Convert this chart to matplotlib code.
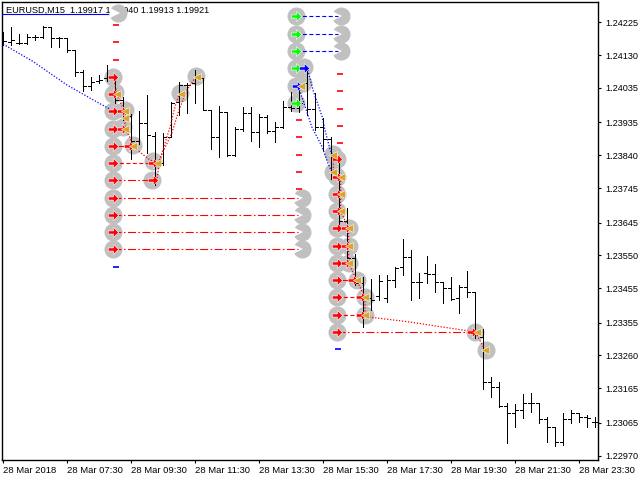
import matplotlib
matplotlib.use("Agg")
import matplotlib.pyplot as plt
from matplotlib.path import Path

# EURUSD M15 bars, 28 Mar 2018 from 05:30, one bar per index
bar_open = [1.24171, 1.24168, 1.24165, 1.24165, 1.24183, 1.24183, 1.24212, 1.24180, 1.24180, 1.24145,
            1.24081, 1.24041, 1.24055, 1.24064, 1.24067, 1.24000, 1.23954, 1.23881, 1.23934, 1.23896,
            1.23818, 1.23893, 1.23994, 1.24044, 1.24049, 1.24064, 1.23971, 1.23893, 1.23965, 1.23841,
            1.23916, 1.23962, 1.23907, 1.23951, 1.23910, 1.23922, 1.23980, 1.23977, 1.24049, 1.23974,
            1.23922, 1.23887, 1.23835, 1.23650, 1.23542, 1.23470, 1.23426, 1.23432, 1.23426, 1.23479,
            1.23516, 1.23545, 1.23473, 1.23499, 1.23496, 1.23473, 1.23455, 1.23426, 1.23458, 1.23444,
            1.23313, 1.23183, 1.23169, 1.23113, 1.23093, 1.23102, 1.23122, 1.23122, 1.23076, 1.23053,
            1.23009, 1.23076, 1.23093, 1.23082, 1.23067]
bar_high = [1.24197, 1.24212, 1.24191, 1.24191, 1.24189, 1.24215, 1.24212, 1.24183, 1.24180, 1.24145,
            1.24087, 1.24067, 1.24073, 1.24102, 1.24064, 1.24009, 1.23960, 1.23968, 1.24015, 1.23907,
            1.23905, 1.23994, 1.24052, 1.24049, 1.24087, 1.24064, 1.23971, 1.23983, 1.23965, 1.23922,
            1.23980, 1.23980, 1.23960, 1.23957, 1.23936, 1.23997, 1.24023, 1.24038, 1.24093, 1.24020,
            1.23948, 1.23893, 1.23838, 1.23687, 1.23554, 1.23487, 1.23481, 1.23493, 1.23493, 1.23516,
            1.23597, 1.23566, 1.23499, 1.23548, 1.23525, 1.23470, 1.23487, 1.23464, 1.23505, 1.23444,
            1.23337, 1.23197, 1.23183, 1.23122, 1.23119, 1.23148, 1.23151, 1.23122, 1.23082, 1.23053,
            1.23093, 1.23102, 1.23093, 1.23087, 1.23082]
bar_low = [1.24160, 1.24160, 1.24162, 1.24162, 1.24174, 1.24180, 1.24154, 1.24154, 1.24139, 1.24070,
           1.24026, 1.24029, 1.24049, 1.24055, 1.23991, 1.23942, 1.23829, 1.23873, 1.23847, 1.23754,
           1.23812, 1.23893, 1.23957, 1.23962, 1.23991, 1.23971, 1.23858, 1.23835, 1.23838, 1.23838,
           1.23910, 1.23881, 1.23864, 1.23905, 1.23878, 1.23919, 1.23968, 1.23965, 1.23957, 1.23913,
           1.23855, 1.23771, 1.23632, 1.23537, 1.23464, 1.23342, 1.23392, 1.23421, 1.23415, 1.23458,
           1.23493, 1.23421, 1.23426, 1.23470, 1.23444, 1.23412, 1.23421, 1.23383, 1.23429, 1.23311,
           1.23163, 1.23140, 1.23111, 1.23006, 1.23053, 1.23079, 1.23096, 1.23064, 1.23009, 1.22998,
           1.23000, 1.23064, 1.23067, 1.23053, 1.23053]
bar_close = [1.24171, 1.24174, 1.24165, 1.24183, 1.24183, 1.24212, 1.24180, 1.24180, 1.24145, 1.24081,
             1.24041, 1.24052, 1.24058, 1.24067, 1.24000, 1.23971, 1.23881, 1.23934, 1.23899, 1.23812,
             1.23893, 1.23991, 1.24044, 1.24044, 1.24067, 1.23971, 1.23893, 1.23965, 1.23841, 1.23916,
             1.23962, 1.23907, 1.23951, 1.23910, 1.23922, 1.23980, 1.23977, 1.23991, 1.23974, 1.23922,
             1.23887, 1.23835, 1.23650, 1.23542, 1.23470, 1.23426, 1.23421, 1.23476, 1.23479, 1.23513,
             1.23545, 1.23473, 1.23473, 1.23496, 1.23473, 1.23455, 1.23424, 1.23458, 1.23444, 1.23325,
             1.23183, 1.23169, 1.23113, 1.23093, 1.23102, 1.23122, 1.23122, 1.23076, 1.23053, 1.23009,
             1.23076, 1.23093, 1.23082, 1.23079, 1.23067]

date_labels = ["28 Mar 2018", "28 Mar 07:30", "28 Mar 09:30", "28 Mar 11:30", "28 Mar 13:30",
               "28 Mar 15:30", "28 Mar 17:30", "28 Mar 19:30", "28 Mar 21:30", "28 Mar 23:30"]
date_bars = [0, 8, 16, 24, 32, 40, 48, 56, 64, 72]
price_ticks = [1.24225, 1.24130, 1.24035, 1.23935, 1.23840, 1.23745, 1.23645,
               1.23550, 1.23455, 1.23355, 1.23260, 1.23165, 1.23065, 1.22970]
title_text = "EURUSD,M15  1.19917 1.19940 1.19913 1.19921"

# grid levels of the two order ladders
left_levels = [1.24067, 1.24017, 1.23967, 1.23917, 1.23867, 1.23817,
               1.23767, 1.23717, 1.23667, 1.23617, 1.23567]
right_levels = [1.23828, 1.23778, 1.23728, 1.23678, 1.23628, 1.23578,
                1.23528, 1.23478, 1.23428, 1.23378, 1.23328]
top_levels = [1.24242, 1.24192, 1.24142, 1.24092, 1.24042, 1.23992]
left_x, right_x, top_x = 13.75, 41.75, 36.65

# gray circles (bar index, price)
circle_x = ([left_x] * 11 + [14.0, 15.2, 15.0, 16.25, 18.75, 18.6, 22.1, 24.1, 14.4]
            + [right_x] * 11 + [41.3, 41.3, 43.2, 43.2, 43.2, 44.3, 45.2, 45.2, 59.0, 60.4]
            + [top_x] * 6 + [37.6, 37.5]
            + [37.4] * 4 + [42.3] * 3)
circle_y = (left_levels + [1.24022, 1.23971, 1.23922, 1.23870, 1.23822, 1.23768, 1.24020, 1.24070, 1.24252]
            + right_levels + [1.23844, 1.23792, 1.23628, 1.23578, 1.23528, 1.23478, 1.23428, 1.23378,
                              1.23328, 1.23276]
            + top_levels + [1.24097, 1.24049]
            + left_levels[7:] + top_levels[:3])
# white notches in closed circles
notch_x = [14.0] + [36.9] * 4 + [41.8] * 3
notch_y = [1.24252] + left_levels[7:] + top_levels[:3]

# red buy arrows
red_x = ([left_x] * 11 + [14.84, 14.84, 15.8, 18.8, 18.8]
         + [right_x] * 11 + [42.84, 42.84, 42.84, 43.7, 44.75, 44.75, 58.6])
red_y = (left_levels + [1.23967, 1.23917, 1.23867, 1.23817, 1.23767]
         + right_levels + [1.23628, 1.23578, 1.23528, 1.23478, 1.23428, 1.23378, 1.23328])
green_x = [36.6] * 5
green_y = [1.24242, 1.24192, 1.24142, 1.24092, 1.23992]
blue_x = [36.7, 37.66]
blue_y = [1.24042, 1.24092]
# orange close triangles
tri_x = [14.25, 15.25, 15.25, 15.25, 16.25, 19.25, 22.25, 24.25, 37.2,
         41.3, 41.3, 42.2, 42.2, 42.2, 43.2, 43.2, 43.2, 44.2, 45.25, 45.25, 59.25, 60.25]
tri_y = [1.24017, 1.23967, 1.23948, 1.23917, 1.23867, 1.23817, 1.24017, 1.24067, 1.24042,
         1.23842, 1.23792, 1.23778, 1.23728, 1.23678, 1.23628, 1.23578, 1.23528, 1.23478,
         1.23428, 1.23378, 1.23328, 1.23276]

# short level marks
red_mark_x = [14.1] * 3 + [37.0] * 5 + [42.1] * 5
red_mark_y = [1.24217, 1.24167, 1.24117,
              1.23942, 1.23892, 1.23842, 1.23792, 1.23742,
              1.24075, 1.24025, 1.23975, 1.23925, 1.23875]
blue_mark_x = [14.1, 41.9]
blue_mark_y = [1.23517, 1.23278]

# horizontal links: (start bar, end bar, price, colour, style)
links = [
    (13.75, 36.9, 1.23717, "red", "dashdot"), (13.75, 36.9, 1.23667, "red", "dashdot"),
    (13.75, 36.9, 1.23617, "red", "dashdot"), (13.75, 36.9, 1.23567, "red", "dashdot"),
    (13.75, 14.84, 1.23967, "red", "solid"), (13.75, 14.84, 1.23917, "red", "solid"),
    (13.75, 15.8, 1.23867, "red", "solid"), (13.75, 18.8, 1.23817, "red", "dash"),
    (13.75, 18.8, 1.23767, "red", "dashdot"),
    (41.75, 42.84, 1.23628, "red", "solid"), (41.75, 42.84, 1.23578, "red", "solid"),
    (41.75, 42.84, 1.23528, "red", "solid"), (41.75, 43.7, 1.23478, "red", "solid"),
    (41.75, 44.75, 1.23428, "red", "dash"), (41.75, 44.75, 1.23378, "red", "dash"),
    (41.75, 58.6, 1.23328, "red", "dashdot"),
    (36.6, 41.9, 1.24242, "blue", "dash"), (36.6, 41.9, 1.24192, "blue", "dash"),
    (36.6, 41.9, 1.24142, "blue", "dash"), (36.6, 37.66, 1.24092, "blue", "solid"),
    (-0.1, 13.1, 1.24249, "blue", "solid"),
]

# dotted trails
trails = [
    ([0.0, 3.8, 7.96, 11.3, 13.4], [1.24162, 1.24111, 1.24044, 1.24000, 1.23973], "blue"),
    ([13.75, 14.0, 14.25, 14.75, 15.25, 15.25, 15.9, 16.25, 17.1, 18.4, 19.25],
     [1.24067, 1.24044, 1.24017, 1.23989, 1.23967, 1.23917, 1.23890, 1.23867, 1.23849, 1.23826, 1.23817], "red"),
    ([19.2, 19.6, 20.25, 20.9, 21.5, 21.9, 22.25],
     [1.23765, 1.23826, 1.23875, 1.23923, 1.23981, 1.24009, 1.24017], "red"),
    ([19.4, 20.1, 21.1, 22.0, 23.0, 24.0, 24.25],
     [1.23817, 1.23855, 1.23904, 1.23971, 1.24029, 1.24064, 1.24067], "red"),
    ([38.1, 38.75, 39.9, 40.25, 40.9, 41.25], [1.24087, 1.24029, 1.23951, 1.23913, 1.23855, 1.23841], "blue"),
    ([36.9, 37.5, 38.6, 39.9, 40.6, 41.1], [1.24038, 1.24000, 1.23922, 1.23864, 1.23818, 1.23792], "blue"),
    ([41.3, 41.3, 42.2, 42.2, 43.2, 43.2, 44.2, 45.25, 45.25],
     [1.23842, 1.23792, 1.23778, 1.23678, 1.23628, 1.23528, 1.23478, 1.23428, 1.23378], "red"),
    ([45.4, 50.5, 58.75], [1.23372, 1.23358, 1.23329], "red"),
    ([59.25, 60.1], [1.23319, 1.23282], "red"),
]

styles = {"solid": "-", "dash": (0, (3.6, 2.2)), "dashdot": (0, (7.2, 2.2, 1.4, 2.2)),
          "dot": (0, (1.0, 1.4))}
colours = {"red": "#FF0000", "blue": "#0000FF"}

arrow = Path([(-1, -0.3), (0, -0.3), (0, -0.95), (1, 0), (0, 0.95), (0, 0.3), (-1, 0.3), (-1, -0.3)],
             [Path.MOVETO] + [Path.LINETO] * 6 + [Path.CLOSEPOLY])

plt.rcParams['font.family'] = ['Liberation Sans', 'DejaVu Sans']
fig = plt.figure(figsize=(6.4, 4.8), dpi=100)
ax = fig.add_axes([2 / 640, 20 / 480, 596 / 640, 458 / 480])

# circles under everything else
ax.plot(circle_x, circle_y, 'o', color='#C0C0C0', ms=13, mew=0, zorder=1)
ax.plot(notch_x, notch_y, '>', color='white', ms=6.5, mew=0, zorder=1.5)

# OHLC bars, drawn one by one so each stroke snaps to the pixel grid
for i in range(len(bar_open)):
    ax.plot([i, i], [bar_low[i], bar_high[i]], color='black', lw=0.72, snap=True, zorder=2)
    ax.plot([i - 0.375, i], [bar_open[i], bar_open[i]], color='black', lw=0.72, snap=True, zorder=2)
    ax.plot([i, i + 0.375], [bar_close[i], bar_close[i]], color='black', lw=0.72, snap=True, zorder=2)

for x0, x1, p, c, s in links:
    ax.plot([x0, x1], [p, p], color=colours[c], ls=styles[s], lw=0.8, zorder=3)
for xs, ys, c in trails:
    ax.plot(xs, ys, color=colours[c], ls=styles["dot"], lw=0.9, zorder=3)

ax.plot(red_mark_x, red_mark_y, '_', color='#FF0000', ms=5, mew=1.2, zorder=3)
ax.plot(blue_mark_x, blue_mark_y, '_', color='#0000FF', ms=5, mew=1.2, zorder=3)

ax.plot(red_x, red_y, marker=arrow, ls='none', color='#FF0000', ms=7.5, mec='white', mew=0.4, zorder=4)
ax.plot(green_x, green_y, marker=arrow, ls='none', color='#00FF00', ms=7.5, mec='white', mew=0.4, zorder=4)
ax.plot(blue_x, blue_y, marker=arrow, ls='none', color='#0000FF', ms=7.5, mec='white', mew=0.4, zorder=4)
ax.plot(tri_x, tri_y, '<', color='#DAA520', ms=6, mec='white', mew=0.4, zorder=4)

ax.text(0.006, 1 - 4 / 458, title_text, transform=ax.transAxes, va='top', ha='left',
        fontsize=6.6, color='black', zorder=0.5)

ax.set_xlim(-0.125, 74.375)
ax.set_ylim(1.22957, 1.24284)
ax.yaxis.tick_right()
ax.set_yticks(price_ticks)
ax.set_yticklabels([f"{p:.5f}" for p in price_ticks], fontsize=6.6)
ax.set_xticks(date_bars)
ax.set_xticklabels(date_labels, fontsize=6.8, ha='left')
ax.tick_params(axis='both', length=2.5, width=0.8, color='black', pad=2)
ax.tick_params(axis='y', pad=3)
for sp in ax.spines.values():
    sp.set_linewidth(1)
    sp.set_color('black')

fig.savefig("out.png", dpi=100, facecolor='white')
